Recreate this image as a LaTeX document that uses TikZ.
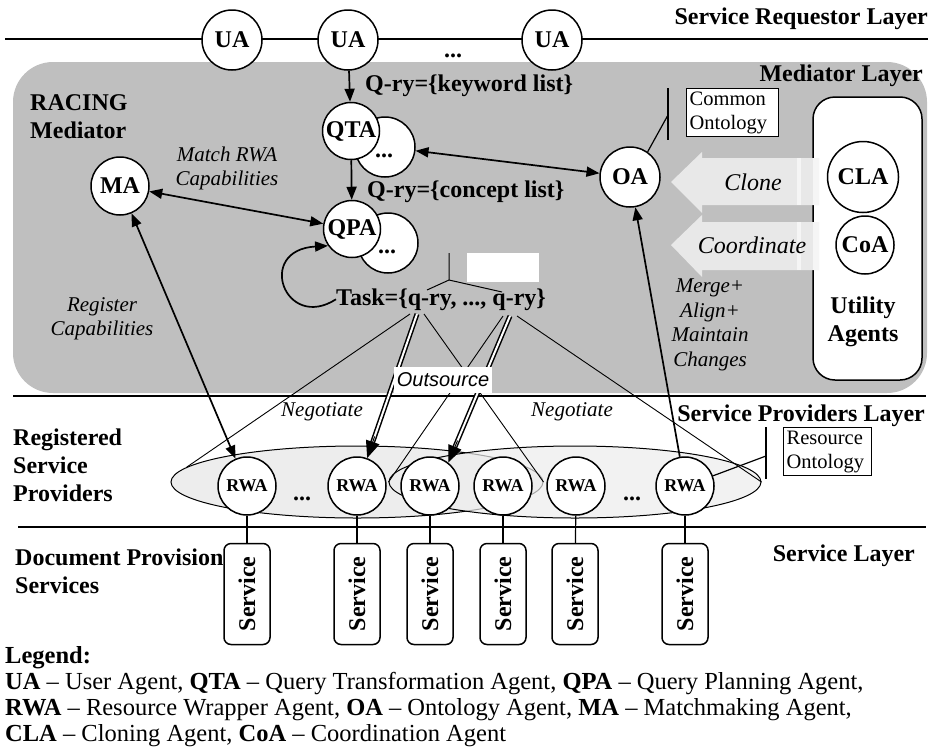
\documentclass[tikz,border=0pt]{standalone}
\usepackage{fontspec}
\setmainfont{Liberation Serif}
\newfontfamily\sansit{Liberation Sans}
\usetikzlibrary{arrows.meta,shapes.geometric,calc}
\newcommand{\fs}[2]{\fontsize{#1}{#2}\selectfont}
\newcommand{\AG}[1]{\textbf{#1}}

\begin{document}
\begin{tikzpicture}[x=1pt,y=-1pt,
  agent/.style={draw,circle,fill=white,line width=1.5pt,inner sep=0pt,minimum size=58pt,font=\fs{24}{28}\bfseries},
  rwa/.style={agent,font=\fs{18}{20}\bfseries},
  svc/.style={draw,rounded corners=7pt,line width=1.5pt,fill=white,rotate=90,minimum width=101pt,minimum height=46pt,inner sep=0pt,font=\fs{24}{28}\bfseries},
  lbl/.style={inner sep=0pt,align=left,font=\fs{24}{28}\bfseries},
  note/.style={inner sep=0pt,align=center,font=\fs{21}{24}\itshape},
  onto/.style={draw,line width=1.3pt,fill=white,align=left,inner xsep=3pt,inner ysep=3pt,font=\fs{20.5}{24}},
  arr/.style={line width=1.7pt,>={Triangle[length=13pt,width=10pt]}},
  dbl/.style={double,double distance=2pt,line width=1.5pt,shorten >=14pt},
  dbltip/.style={line width=1pt,-{Triangle[length=17pt,width=14pt]}},
  neg/.style={line width=0.9pt},
  laybar/.style={line width=1.8pt}
  ]

  \useasboundingbox (0,0) rectangle (933,747);

  % mediator area
  \fill[black!25,rounded corners=40pt] (13,62) rectangle (927,393);

  % layer lines
  \draw[laybar] (5,39) -- (928,39);
  \draw[laybar] (13,396) -- (926,396);
  \draw[laybar] (18,527) -- (926,527);

  \node[lbl,anchor=base east] at (928,24) {Service Requestor Layer};
  \node[lbl,anchor=base east] at (923,81) {Mediator Layer};
  \node[lbl,anchor=base east] at (925,421) {Service Providers Layer};
  \node[lbl,anchor=base east] at (915,561) {Service Layer};

  \node[lbl,anchor=west] (racing) at (30,117) {RACING\\Mediator};
  \node[lbl,anchor=west] (regsp) at (13,465) {Registered\\Service\\Providers};
  \node[lbl,anchor=west] (docps) at (15,571) {Document Provision\\Services};

  % utility agents
  \draw[line width=1.5pt,fill=white,rounded corners=22pt] (813,97) rectangle (922,380);
  \node[lbl,align=center] (util) at (863,322) {Utility\\Agents};

  \fill[black!9] (671,182) -- (702,152) -- (702,158) -- (819,158) -- (819,205) -- (702,205) -- (702,213) -- cycle;
  \fill[black!4] (797,158) rectangle (801,205);
  \fill[black!4] (813,158) rectangle (819,205);
  \fill[black!9] (671,245) -- (702,215) -- (702,222) -- (819,222) -- (819,270) -- (702,270) -- (702,277) -- cycle;
  \fill[black!4] (797,222) rectangle (801,270);
  \fill[black!4] (813,222) rectangle (819,270);
  \node[note,font=\fs{24}{28}\itshape] (clone) at (753,182) {Clone};
  \node[note,font=\fs{24}{28}\itshape] (coord) at (752,245) {Coordinate};

  \node[agent,minimum size=71pt] (cla) at (863,177) {CLA};
  \node[agent] (coa) at (865,245) {CoA};

  % requestors
  \node[agent,minimum size=60pt] (ua1) at (232,40) {UA};
  \node[agent,minimum size=60pt] (ua2) at (348,40) {UA};
  \node[agent,minimum size=60pt] (ua3) at (552,40) {UA};
  \node[lbl,anchor=base] at (453,57) {...};

  % mediator agents
  \node[agent,minimum size=60pt] (qtab) at (385,147) {};
  \node[lbl,anchor=base] at (384,157) {...};
  \node[agent,minimum size=57pt] (qta) at (351,131) {QTA};
  \node[agent,minimum size=60pt] (qpab) at (388,243) {};
  \node[lbl,anchor=base] at (387,253) {...};
  \node[agent,minimum size=57pt] (qpa) at (352,229) {QPA};
  \node[agent] (ma) at (120,186) {MA};
  \node[agent,minimum size=60pt] (oa) at (630,177) {OA};

  \node[lbl,anchor=base west] (kwq) at (365,91) {Q-ry=\{keyword list\}};
  \node[lbl,anchor=base west] (cnq) at (367,197) {Q-ry=\{concept list\}};
  \node[lbl,anchor=base west] (task) at (336,305) {Task=\{q-ry, ..., q-ry\}};
  \coordinate (qa) at (417,314);
  \coordinate (qb) at (510,316);

  \node[note] (match) at (227,168) {Match RWA\\Capabilities};
  \node[note] (regcap) at (102,319) {Register\\Capabilities};
  \node[note,font=\fs{21}{24.5}\itshape] (merge) at (710,325) {Merge+\\Align+\\Maintain\\Changes};

  \node[onto,text width=86pt,anchor=north west] (cono) at (686,88) {Common\\Ontology};
  \coordinate (cbar) at (668,115);
  \draw[line width=1.2pt] (668,88) -- (668,140);

  % task tree
  \coordinate (tj) at (449,280);
  \draw[line width=1pt] (449,253) -- (tj) -- (427,290);
  \draw[line width=1pt] (tj) -- (502,292);
  \fill[white] (467,253) rectangle (539,282);

  % providers
  \node[ellipse,draw,line width=1pt,fill=black!7,minimum width=372pt,minimum height=72pt] (grpL) at (357,482) {};
  \node[ellipse,draw,line width=1pt,fill=black!7,fill opacity=0.7,minimum width=372pt,minimum height=72pt] (grpR) at (575,482) {};

  \node[rwa] (rwa1) at (247,486) {RWA};
  \node[rwa] (rwa2) at (357,486) {RWA};
  \node[rwa] (rwa3) at (430,486) {RWA};
  \node[rwa] (rwa4) at (503,486) {RWA};
  \node[rwa] (rwa5) at (576,486) {RWA};
  \node[rwa] (rwa6) at (685,486) {RWA};
  \node[lbl,anchor=base] at (302,500) {...};
  \node[lbl,anchor=base] at (632,500) {...};

  \node[onto,text width=82pt,anchor=north west] (rono) at (783,427) {Resource\\Ontology};
  \coordinate (rbar) at (766,456);
  \draw[line width=1.2pt] (766,427) -- (766,479);

  \node[note] (neg1) at (322,412) {Negotiate};
  \node[note] (neg2) at (572,412) {Negotiate};

  % services
  \node[svc] (svc1) at (247,594) {Service};
  \node[svc] (svc2) at (357,594) {Service};
  \node[svc] (svc3) at (430,594) {Service};
  \node[svc] (svc4) at (503,594) {Service};
  \node[svc] (svc5) at (575,594) {Service};
  \node[svc] (svc6) at (685,594) {Service};

  \draw[line width=1.2pt] (rwa1) -- (svc1);
  \draw[line width=1.2pt] (rwa2) -- (svc2);
  \draw[line width=1.2pt] (rwa3) -- (svc3);
  \draw[line width=1.2pt] (rwa4) -- (svc4);
  \draw[line width=1.2pt] (rwa5) -- (svc5);
  \draw[line width=1.2pt] (rwa6) -- (svc6);

  % connectors
  \draw[arr,->] (ua2) -- (qta); % UA->QTA
  \draw[arr,->] (qta) -- (qpa); % QTA->QPA
  \draw[arr,<->] (ma) -- (qpa); % MA<->QPA
  \draw[arr,<->] (ma) -- (rwa1); % MA<->RWA
  \draw[arr,<->] (qtab) -- (oa); % QTA<->OA
  \draw[arr,->] (rwa6) -- (oa); % RWA->OA
  \draw[arr,->] (task.west) .. controls (285,332) and (255,250) .. (qpa.215); % QPA loop
  \draw[line width=1.2pt] (oa.55) -- (cbar);
  \draw[line width=1.2pt] (rwa6.20) -- (rbar);

  \draw[neg] ([xshift=-7pt]qa) -- (grpL.175);
  \draw[neg] ([xshift=7pt]qa) -- (grpL.east);
  \draw[neg] ([xshift=-7pt]qb) -- (grpR.west);
  \draw[neg] ([xshift=7pt]qb) -- (grpR.east);

  \draw[dbl] (qa) -- (rwa2.70); % outsource
  \draw[dbltip] ($(qa)!0.85!(rwa2.70)$) -- (rwa2.70);
  \draw[dbl] (qb) -- (rwa3.52); % outsource
  \draw[dbltip] ($(qb)!0.85!(rwa3.52)$) -- (rwa3.52);

  \node[fill=white,inner sep=0pt,minimum width=98pt,minimum height=26pt,font=\sansit\itshape\fs{20}{24}] (outs) at (443,380) {Outsource};

  % legend
  \node[anchor=north west,inner sep=0pt,align=left,font=\fs{24.5}{26}] (legend) at (5,646) {\AG{Legend:}\\
    \AG{UA} -- User Agent, \AG{QTA} -- Query Transformation Agent, \AG{QPA} -- Query Planning Agent,\\
    \AG{RWA} -- Resource Wrapper Agent, \AG{OA} -- Ontology Agent, \AG{MA} -- Matchmaking Agent,\\
    \AG{CLA} -- Cloning Agent, \AG{CoA} -- Coordination Agent};

\end{tikzpicture}
\end{document}
